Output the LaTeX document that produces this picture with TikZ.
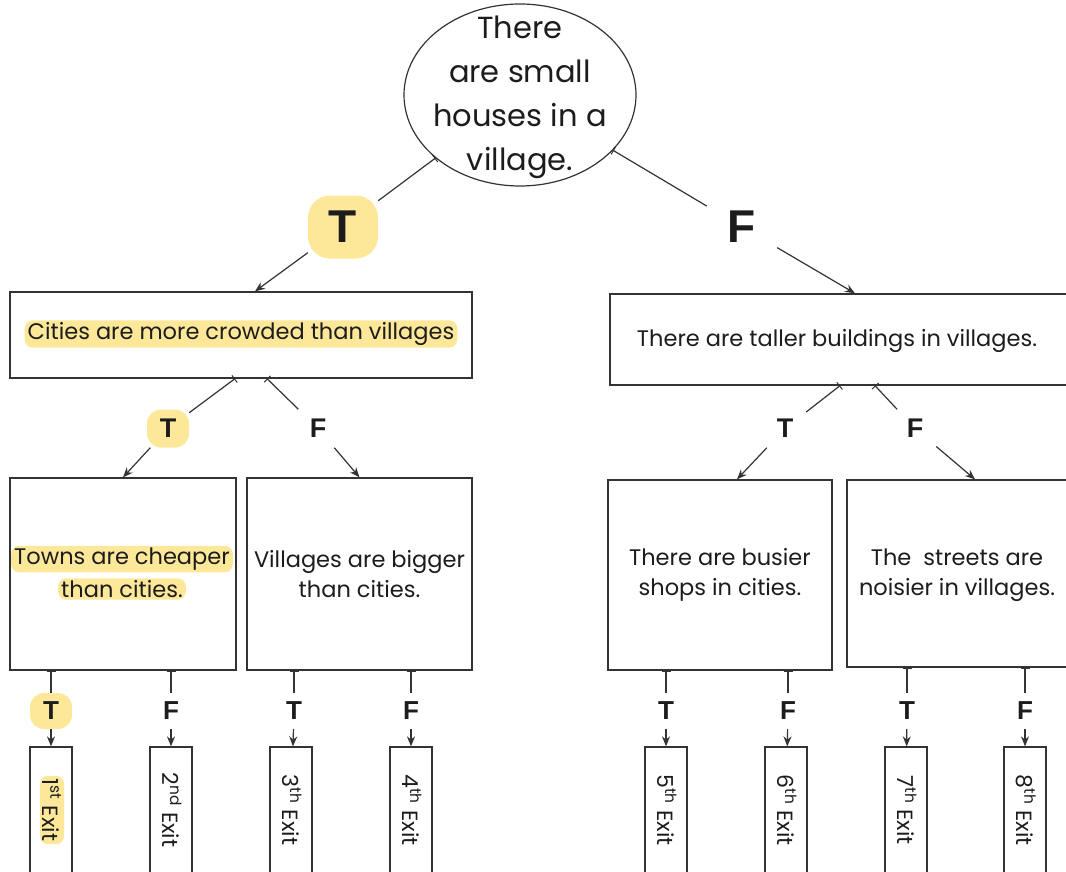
\documentclass[tikz,border=0pt]{standalone}
\usepackage{fontspec}
\setmainfont{Poppins}
\newfontfamily\tffont{Liberation Sans}
\usetikzlibrary{arrows.meta,shapes.geometric}
\definecolor{hl}{HTML}{FDE89A}
\definecolor{ln}{HTML}{333333}
\definecolor{tx}{HTML}{1C1C1C}
\begin{document}
\begin{tikzpicture}[x=1pt,y=-1pt,
  box/.style={draw=ln,line width=1.3pt,inner sep=0pt,align=center,text=tx},
  boxtext/.style={inner sep=0pt,align=center,text=tx,font=\fontsize{22.5}{30}\selectfont},
  hltext/.style={fill=hl,rounded corners=8pt,inner xsep=3pt,inner ysep=2pt,text=tx,font=\fontsize{22.5}{30}\selectfont},
  tfbig/.style={font=\tffont\bfseries\fontsize{46}{46}\selectfont,inner sep=0pt,minimum width=70,minimum height=63,text=tx},
  tfmid/.style={font=\tffont\bfseries\fontsize{27}{27}\selectfont,inner sep=0pt,minimum width=42,minimum height=38,text=tx},
  tfsmall/.style={font=\tffont\bfseries\fontsize{26}{26}\selectfont,inner sep=0pt,minimum width=42,minimum height=36,text=tx},
  hlshape/.style={fill=hl,rounded corners=14pt},
  exitbox/.style={draw=ln,line width=1.3pt,rotate=-90,minimum width=130,minimum height=42,inner sep=0pt},
  exittext/.style={rotate=-90,inner sep=1pt,text=tx,font=\fontsize{22}{22}\selectfont},
  pline/.style={draw=ln,line width=1.2pt,{Bar[width=9pt,line width=1pt]}-},
  parrow/.style={draw=ln,line width=1.2pt,-{Stealth[length=10pt,width=8pt]}}
]
\clip (0,0) rectangle (1066,872);
\useasboundingbox (0,0) rectangle (1066,872);

% root
\node[draw=ln,line width=1.2pt,ellipse,minimum width=232,minimum height=182,inner sep=0pt] (root) at (520,95) {};
\node[inner sep=0pt,align=center,text=tx,font=\fontsize{30.5}{44}\selectfont]
  (roottext) at (520,97) {There\\are small\\houses in a\\village.};

% level 1 labels
\node[tfbig,hlshape,rounded corners=22pt] (T1) at (343,227) {T};
\node[tfbig] (F1) at (742,227) {F};

% level 1 boxes
\node[box,minimum width=462,minimum height=86] (b1) at (241,335) {};
\node[hltext] (b1t) at (241,334) {Cities are more crowded than villages};
\node[box,minimum width=470,minimum height=91] (b2) at (845,339.5) {};
\node[boxtext] (b2t) at (837,341) {There are taller buildings in villages.};

\draw[pline] (root) -- (T1);
\draw[parrow] (T1) -- ([xshift=14pt]b1.north);
\draw[pline] (root) -- (F1);
\draw[parrow] (F1) -- ([xshift=10pt]b2.north);

% level 2 labels
\node[tfmid,fill=hl,rounded corners=14pt] (T2) at (168,428.5) {T};
\node[tfmid] (F2) at (318,428.5) {F};
\node[tfmid] (T3) at (785,428.5) {T};
\node[tfmid] (F3) at (915,428.5) {F};

% level 2 boxes
\node[box,minimum width=226,minimum height=192] (bA) at (123,574) {};
\node[hltext] (bAt1) at (122,559) {Towns are cheaper};
\node[hltext] (bAt2) at (122,589) {than cities.};
\node[box,minimum width=225,minimum height=192,font=\fontsize{22.5}{30}\selectfont] (bB) at (359.5,574) {Villages are bigger\\than cities.};
\node[box,minimum width=224,minimum height=190,font=\fontsize{22.5}{30}\selectfont] (bC) at (720,575) {There are busier\\shops in cities.};
\node[box,minimum width=232,minimum height=187] (bD) at (963,573.5) {};
\node[boxtext] (bDt) at (957,575) {The\ \ streets are\\noisier in villages.};

\draw[pline] ([xshift=-6pt]b1.south) -- (T2);
\draw[pline] ([xshift=26pt]b1.south) -- (F2);
\draw[parrow] (T2) -- (bA.north);
\draw[parrow] (F2) -- (bB.north);
\draw[pline] ([xshift=-5pt]b2.south) -- (T3);
\draw[pline] ([xshift=30pt]b2.south) -- (F3);
\draw[parrow] (T3) -- ([xshift=17pt]bC.north);
\draw[parrow] (F3) -- ([xshift=12pt]bD.north);

% level 3 labels
\node[tfsmall,fill=hl,rounded corners=14pt] (L1) at (51,711) {T};
\node[tfsmall] (L2) at (171,711) {F};
\node[tfsmall] (L3) at (294,711) {T};
\node[tfsmall] (L4) at (411,711) {F};
\node[tfsmall] (L5) at (666,711) {T};
\node[tfsmall] (L6) at (788,711) {F};
\node[tfsmall] (L7) at (907,711) {T};
\node[tfsmall] (L8) at (1025,711) {F};

% exits
\node[exitbox] (E1) at (51,812) {};
\node[exitbox] (E2) at (171,812) {};
\node[exitbox] (E3) at (291,812) {};
\node[exitbox] (E4) at (411,812) {};
\node[exitbox] (E5) at (666,812) {};
\node[exitbox] (E6) at (786,812) {};
\node[exitbox] (E7) at (906,812) {};
\node[exitbox] (E8) at (1025,812) {};

\node[exittext,fill=hl,rounded corners=8pt,inner sep=3pt] (X1) at (52,810) {1\textsuperscript{st} Exit};
\node[exittext] (X2) at (172,810) {2\textsuperscript{nd} Exit};
\node[exittext] (X3) at (292,810) {3\textsuperscript{th} Exit};
\node[exittext] (X4) at (412,810) {4\textsuperscript{th} Exit};
\node[exittext] (X5) at (667,810) {5\textsuperscript{th} Exit};
\node[exittext] (X6) at (787,810) {6\textsuperscript{th} Exit};
\node[exittext] (X7) at (907,810) {7\textsuperscript{th} Exit};
\node[exittext] (X8) at (1026,810) {8\textsuperscript{th} Exit};

\draw[pline] (bA.south -| L1) -- (L1);
\draw[pline] (bA.south -| L2) -- (L2);
\draw[pline] (bB.south -| L3) -- (L3);
\draw[pline] (bB.south -| L4) -- (L4);
\draw[pline] (bC.south -| L5) -- (L5);
\draw[pline] (bC.south -| L6) -- (L6);
\draw[pline] (bD.south -| L7) -- (L7);
\draw[pline] (bD.south -| L8) -- (L8);

\draw[parrow] (L1) -- (E1);
\draw[parrow] (L2) -- (E2);
\draw[parrow] (L3) -- (E3);
\draw[parrow] (L4) -- (E4);
\draw[parrow] (L5) -- (E5);
\draw[parrow] (L6) -- (E6);
\draw[parrow] (L7) -- (E7);
\draw[parrow] (L8) -- (E8);
\end{tikzpicture}
\end{document}
